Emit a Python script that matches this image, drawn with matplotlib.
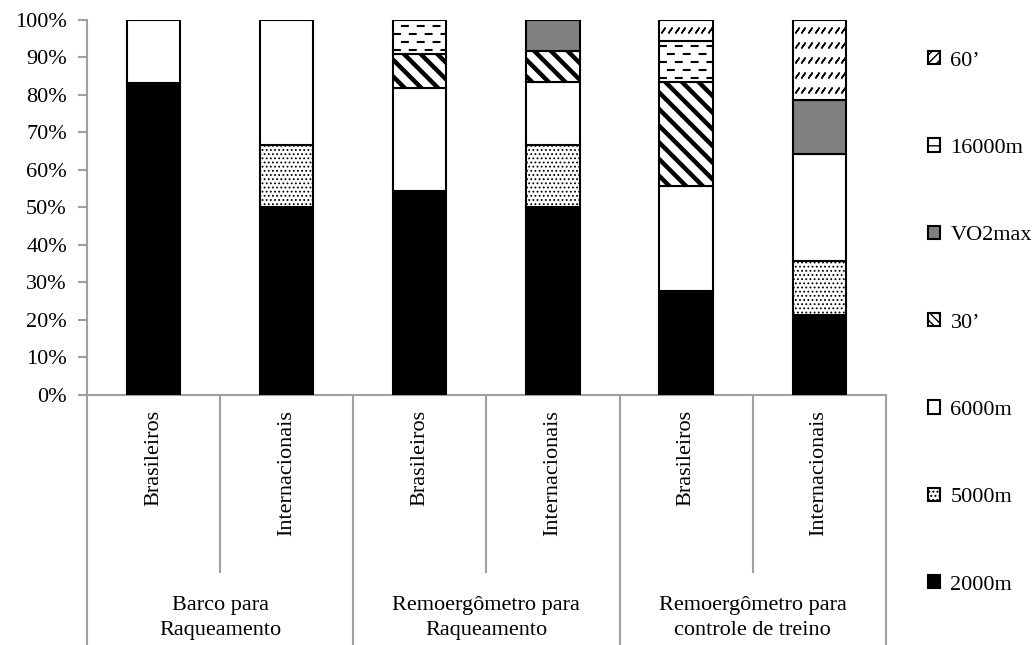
import matplotlib.pyplot as plt
import numpy as np
from matplotlib.patches import Patch

plt.rcParams['font.family'] = ['Liberation Serif', 'DejaVu Serif']
plt.rcParams['font.size'] = 16

groups = ['Barco para\nRaqueamento', 'Remoergômetro para\nRaqueamento',
          'Remoergômetro para\ncontrole de treino']
subgroups = ['Brasileiros', 'Internacionais'] * 3
series = ['2000m', '5000m', '6000m', '30’', 'VO2max', '16000m', '60’']

# percent of athletes per test
v2000 = [83.3, 50.0, 54.5, 50.0, 27.8, 21.4]
v5000 = [0, 16.7, 0, 16.7, 0, 14.3]
v6000 = [16.7, 33.3, 27.3, 16.7, 27.8, 28.6]
v30 = [0, 0, 9.1, 8.3, 27.8, 0]
vvo2 = [0, 0, 0, 8.3, 0, 14.3]
v16000 = [0, 0, 9.1, 0, 11.1, 0]
v60 = [0, 0, 0, 0, 5.6, 21.4]
values = [v2000, v5000, v6000, v30, vvo2, v16000, v60]

gray = '#A0A0A0'
styles = {
    '2000m': dict(fc='black', hatch=None, hlw=1.0),
    '5000m': dict(fc='white', hatch='....', hlw=0.8),
    '6000m': dict(fc='white', hatch=None, hlw=1.0),
    '30’': dict(fc='white', hatch='\\\\', hlw=3.2),
    'VO2max': dict(fc='#808080', hatch=None, hlw=1.0),
    '16000m': dict(fc='white', hatch=None, hlw=1.0),
    '60’': dict(fc='white', hatch=None, hlw=1.0),
}

fig = plt.figure(figsize=(10.36, 6.45), dpi=100)
ax = fig.add_axes([0.084, 0.3876, 0.771, 0.5814])

x = np.arange(len(subgroups))
bottom = np.zeros(len(x))
containers = {}
for name, vals in zip(series, values):
    st = styles[name]
    vals = np.array(vals, dtype=float)
    with plt.rc_context({'hatch.linewidth': st['hlw']}):
        bars = ax.bar(x, vals, 0.4, bottom=bottom, color=st['fc'],
                      edgecolor='black', linewidth=1.5, hatch=st['hatch'],
                      zorder=3)
    for b, v in zip(bars, vals):
        if v == 0:
            b.set_visible(False)
    containers[name] = bars
    bottom += vals

# dashed rows for 16000m
for b in containers['16000m']:
    if not b.get_visible():
        continue
    x0, y0 = b.get_x(), b.get_y()
    x1, y1 = x0 + b.get_width(), y0 + b.get_height()
    ys = np.arange(y0 + 1.1, y1 - 0.5, 2.13)
    for i, yy in enumerate(ys):
        ln, = ax.plot([x0, x1], [yy, yy], color='black', lw=1.5,
                      linestyle=((i % 2) * 3.8, (3.8, 3.8)), zorder=4)
        ln.set_clip_path(b)

# rows of small slanted ticks for 60'
for b in containers['60’']:
    if not b.get_visible():
        continue
    x0, y0 = b.get_x(), b.get_y()
    x1, y1 = x0 + b.get_width(), y0 + b.get_height()
    ys = np.arange(y1 - 2.7, y0 + 1.0, -4.0)
    xs = np.arange(x0 + 0.03, x1 - 0.01, 0.05)
    for yy in ys:
        pts = ax.plot(xs, np.full(len(xs), yy), linestyle='none',
                      marker=(2, 2, -35), markersize=5, mew=1.1,
                      color='black', zorder=4)[0]
        pts.set_clip_path(b)

ax.set_xlim(-0.5, 5.5)
ax.set_ylim(0, 100)
ax.set_yticks(np.arange(0, 101, 10))
ax.set_yticklabels([f'{t}%' for t in range(0, 101, 10)])
ax.set_xticks([])
ax.tick_params(axis='y', length=6.5, width=1.5, color=gray, pad=8)
for s in ['top', 'right']:
    ax.spines[s].set_visible(False)
for s in ['left', 'bottom']:
    ax.spines[s].set_color(gray)
    ax.spines[s].set_linewidth(1.5)

# category table under the axis
tr = ax.get_xaxis_transform()
for xv in [-0.5, 1.5, 3.5, 5.5]:
    ax.plot([xv, xv], [0, -0.67], color=gray, lw=1.5, transform=tr,
            clip_on=False)
for xv in [0.5, 2.5, 4.5]:
    ax.plot([xv, xv], [0, -0.472], color=gray, lw=1.5, transform=tr,
            clip_on=False)
for xv, lab in zip(x, subgroups):
    ax.text(xv, -0.04, lab, rotation=90, ha='center', va='top',
            transform=tr)
for i, g in enumerate(groups):
    ax.text(2 * i + 0.5, -0.595, g, ha='center', va='center',
            linespacing=1.45, transform=tr)

legend_hatch = {'16000m': '--', '60’': '////', '30’': '\\\\\\\\'}
handles = []
for name in series[::-1]:
    st = styles[name]
    h = legend_hatch.get(name, st['hatch'])
    with plt.rc_context({'hatch.linewidth': min(st['hlw'], 1.5)}):
        handles.append(Patch(facecolor=st['fc'], edgecolor='black',
                             linewidth=1.5, hatch=h, label=name))
fig.legend(handles=handles, loc='upper left', bbox_to_anchor=(0.896, 0.921),
           frameon=False, borderpad=0, borderaxespad=0, handlelength=0.55,
           handleheight=0.55, handletextpad=0.45, labelspacing=3.05)

fig.savefig('out.png', dpi=100)
